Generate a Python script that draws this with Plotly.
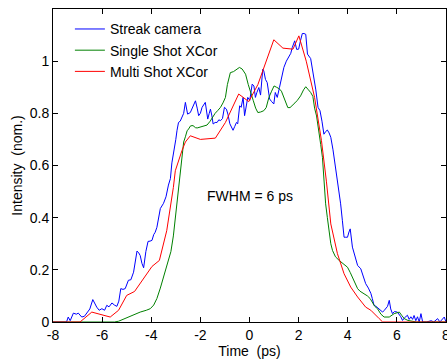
import plotly.graph_objects as go

# Streak camera
streak_x = [-8.0, -7.6, -7.45, -7.38, -7.3, -7.17, -7.05, -6.97, -6.83, -6.72, -6.63, -6.5, -6.38, -6.3, -6.22,
            -6.12, -6.01, -5.9, -5.81, -5.72, -5.6, -5.5, -5.4, -5.32, -5.24, -5.15, -5.06, -4.93, -4.83, -4.72,
            -4.65, -4.58, -4.51, -4.45, -4.38, -4.31, -4.22, -4.13, -4.05, -3.97, -3.9, -3.84, -3.77, -3.7, -3.63,
            -3.5, -3.4, -3.3, -3.22, -3.16, -3.08, -3.0, -2.95, -2.89, -2.82, -2.75, -2.68, -2.61, -2.55, -2.52,
            -2.41, -2.3, -2.2, -2.13, -2.07, -2.0, -1.93, -1.8, -1.75, -1.7, -1.64, -1.59, -1.53, -1.48, -1.4,
            -1.32, -1.25, -1.18, -1.1, -1.02, -0.94, -0.88, -0.8, -0.72, -0.67, -0.6, -0.53, -0.48, -0.4, -0.34,
            -0.26, -0.2, -0.12, -0.07, 0.01, 0.07, 0.11, 0.18, 0.24, 0.3, 0.38, 0.45, 0.54, 0.58, 0.65, 0.72, 0.82,
            0.9, 0.99, 1.05, 1.13, 1.22, 1.3, 1.4, 1.5, 1.6, 1.68, 1.74, 1.84, 1.92, 2.0, 2.08, 2.15, 2.22, 2.29,
            2.36, 2.42, 2.49, 2.56, 2.62, 2.7, 2.79, 2.87, 2.95, 3.03, 3.1, 3.17, 3.24, 3.31, 3.4, 3.51, 3.6, 3.71,
            3.78, 3.85, 3.92, 3.99, 4.05, 4.1, 4.19, 4.3, 4.4, 4.53, 4.63, 4.73, 4.84, 4.94, 5.0, 5.07, 5.15, 5.28,
            5.35, 5.42, 5.49, 5.55, 5.62, 5.69, 5.75, 5.82, 5.9, 6.02, 6.1, 6.16, 6.23, 6.3, 6.43, 6.5, 6.57, 6.64,
            6.7, 6.77, 6.84, 6.91, 6.98, 7.05, 7.2, 7.4, 7.5, 7.6, 7.66, 7.75, 7.85, 7.93, 8.0]
streak_y = [0.0, 0.0, 0.0, 0.019, 0.005, 0.034, 0.03, 0.034, 0.019, 0.022, 0.032, 0.05, 0.086, 0.07, 0.057,
            0.045, 0.051, 0.045, 0.064, 0.058, 0.073, 0.065, 0.06, 0.08, 0.128, 0.125, 0.128, 0.16, 0.162, 0.191,
            0.24, 0.272, 0.265, 0.255, 0.225, 0.208, 0.27, 0.309, 0.31, 0.313, 0.335, 0.344, 0.363, 0.4, 0.435,
            0.455, 0.48, 0.525, 0.55, 0.61, 0.65, 0.70, 0.735, 0.765, 0.77, 0.784, 0.80, 0.842, 0.81, 0.797,
            0.803, 0.83, 0.848, 0.82, 0.791, 0.80, 0.823, 0.842, 0.81, 0.778, 0.80, 0.816, 0.79, 0.759, 0.765,
            0.765, 0.775, 0.772, 0.78, 0.823, 0.816, 0.797, 0.76, 0.745, 0.735, 0.75, 0.765, 0.76, 0.829, 0.823,
            0.861, 0.791, 0.842, 0.861, 0.85, 0.88, 0.912, 0.905, 0.861, 0.88, 0.899, 0.87, 0.969, 0.963, 0.93,
            0.918, 0.855, 0.845, 0.836, 0.88, 0.861, 0.899, 0.94, 0.976, 1.0, 1.014, 1.03, 1.052, 1.078, 1.045,
            1.046, 1.08, 1.106, 1.106, 1.103, 1.027, 1.02, 1.01, 0.97, 0.937, 0.89, 0.823, 0.81, 0.77, 0.72, 0.73,
            0.736, 0.725, 0.708, 0.66, 0.593, 0.53, 0.453, 0.39, 0.325, 0.325, 0.325, 0.345, 0.357, 0.287, 0.25,
            0.217, 0.204, 0.175, 0.147, 0.13, 0.11, 0.09, 0.064, 0.06, 0.051, 0.045, 0.038, 0.045, 0.051, 0.06,
            0.083, 0.05, 0.032, 0.04, 0.038, 0.03, 0.02, 0.006, 0.015, 0.026, 0.01, 0.02, 0.01, 0.025, 0.005, 0.02,
            0.0, 0.032, 0.0, 0.0, 0.005, 0.0, 0.01, 0.013, 0.0, 0.01, 0.019, 0.0]

# Single shot cross-correlation
single_x = [-8.0, -5.5, -5.33, -5.15, -4.99, -4.7, -4.45, -4.2, -4.04, -3.9, -3.77, -3.63, -3.5, -3.4, -3.3,
            -3.2, -3.1, -3.02, -2.95, -2.88, -2.82, -2.75, -2.68, -2.61, -2.54, -2.48, -2.4, -2.3, -2.2, -2.13,
            -2.0, -1.85, -1.73, -1.6, -1.52, -1.4, -1.3, -1.18, -1.08, -0.98, -0.9, -0.84, -0.78, -0.65, -0.5,
            -0.41, -0.3, -0.16, -0.05, 0.04, 0.15, 0.25, 0.34, 0.45, 0.58, 0.68, 0.79, 0.9, 1.0, 1.1, 1.2, 1.3,
            1.4, 1.5, 1.56, 1.65, 1.74, 1.85, 1.95, 2.08, 2.2, 2.29, 2.4, 2.49, 2.58, 2.65, 2.73, 2.83, 2.9, 2.97,
            3.03, 3.1, 3.17, 3.24, 3.31, 3.38, 3.5, 3.65, 3.8, 3.99, 4.1, 4.19, 4.3, 4.4, 4.5, 4.67, 4.8, 4.91,
            5.0, 5.1, 5.21, 5.35, 5.48, 5.69, 5.89, 6.1, 6.2, 6.3, 6.45, 6.57, 6.8, 8.0]
single_y = [0.0, 0.0, 0.003, 0.01, 0.019, 0.03, 0.038, 0.045, 0.051, 0.065, 0.09, 0.13, 0.172, 0.2, 0.23,
            0.27, 0.33, 0.40, 0.45, 0.52, 0.58, 0.65, 0.69, 0.71, 0.733, 0.74, 0.752, 0.753, 0.745, 0.744,
            0.748, 0.752, 0.755, 0.77, 0.784, 0.80, 0.81, 0.823, 0.84, 0.861, 0.91, 0.94, 0.956, 0.96, 0.97,
            0.976, 0.97, 0.95, 0.91, 0.886, 0.85, 0.82, 0.803, 0.805, 0.81, 0.822, 0.861, 0.885, 0.905, 0.9,
            0.895, 0.885, 0.86, 0.84, 0.822, 0.822, 0.829, 0.84, 0.85, 0.867, 0.89, 0.902, 0.89, 0.88, 0.865,
            0.82, 0.79, 0.735, 0.68, 0.631, 0.55, 0.453, 0.40, 0.351, 0.30, 0.274, 0.25, 0.236, 0.225, 0.21,
            0.19, 0.172, 0.15, 0.128, 0.118, 0.109, 0.1, 0.09, 0.075, 0.06, 0.051, 0.03, 0.019, 0.019, 0.032,
            0.038, 0.025, 0.013, 0.006, 0.004, 0.0, 0.0]

# Multi shot cross-correlation
multi_x = [-8.0, -6.9, -6.42, -5.67, -5.33, -5.0, -4.68, -3.97, -3.67, -3.37, -3.1, -3.02, -2.75, -2.61,
           -2.41, -2.0, -1.39, -0.98, -0.44, -0.03, 0.34, 0.58, 0.99, 1.36, 1.77, 2.01, 2.31, 2.65, 2.93, 3.13,
           3.31, 3.58, 3.85, 4.12, 4.4, 4.73, 4.94, 5.28, 5.42, 6.2, 8.0]
multi_y = [0.0, 0.0, 0.038, 0.019, 0.045, 0.102, 0.117, 0.213, 0.236, 0.35, 0.516, 0.58, 0.657, 0.69,
           0.714, 0.70, 0.705, 0.765, 0.874, 0.845, 0.91, 0.975, 1.082, 1.05, 1.046, 1.097, 1.0, 0.861, 0.695,
           0.54, 0.376, 0.262, 0.185, 0.134, 0.096, 0.057, 0.045, 0.013, 0.0, 0.0, 0.0]

x_ticks = [-8, -6, -4, -2, 0, 2, 4, 6, 8]
y_ticks = [0, 0.2, 0.4, 0.6, 0.8, 1]

FONT = "Liberation Sans, Arial, sans-serif"

fig = go.Figure()
fig.add_trace(go.Scatter(x=streak_x, y=streak_y, mode="lines", name="Streak camera",
                         line=dict(color="#0000ff", width=1)))
fig.add_trace(go.Scatter(x=single_x, y=single_y, mode="lines", name="Single Shot XCor",
                         line=dict(color="#008000", width=1)))
fig.add_trace(go.Scatter(x=multi_x, y=multi_y, mode="lines", name="Multi Shot XCor",
                         line=dict(color="#ff0000", width=1)))

fig.add_annotation(x=0.02, y=0.485, xref="x", yref="y", text="FWHM = 6 ps", showarrow=False,
                   font=dict(family=FONT, size=14, color="black"))

axis_common = dict(showline=True, linecolor="black", linewidth=1, mirror="ticks", ticks="inside",
                   ticklen=5, tickcolor="black", showgrid=False, zeroline=False, automargin=False,
                   ticklabeloverflow="allow",
                   tickfont=dict(family=FONT, size=14, color="black"))

fig.update_layout(
    width=447, height=359,
    margin=dict(l=53, r=1, t=9, b=37),
    paper_bgcolor="white", plot_bgcolor="white",
    font=dict(family=FONT, size=14, color="black"),
    showlegend=True,
    legend=dict(x=0.043, y=0.986, xanchor="left", yanchor="top", bgcolor="rgba(0,0,0,0)",
                font=dict(family=FONT, size=14, color="black"), tracegroupgap=0),
    xaxis=dict(range=[-8, 8], tickvals=x_ticks, ticktext=[str(v) for v in x_ticks],
               title=dict(text="Time\u00a0 (ps)", standoff=2, font=dict(family=FONT, size=14)),
               **axis_common),
    yaxis=dict(range=[0, 1.2], tickvals=y_ticks, ticktext=["0", "0.2", "0.4", "0.6", "0.8", "1"],
               title=dict(text="Intensity\u00a0 (nom.)", standoff=3, font=dict(family=FONT, size=14)),
               **axis_common),
)

fig.write_html("out.html",
               config={"displayModeBar": False, "staticPlot": True},
               post_script="document.body.style.margin='0px';document.body.style.overflow='hidden';")
